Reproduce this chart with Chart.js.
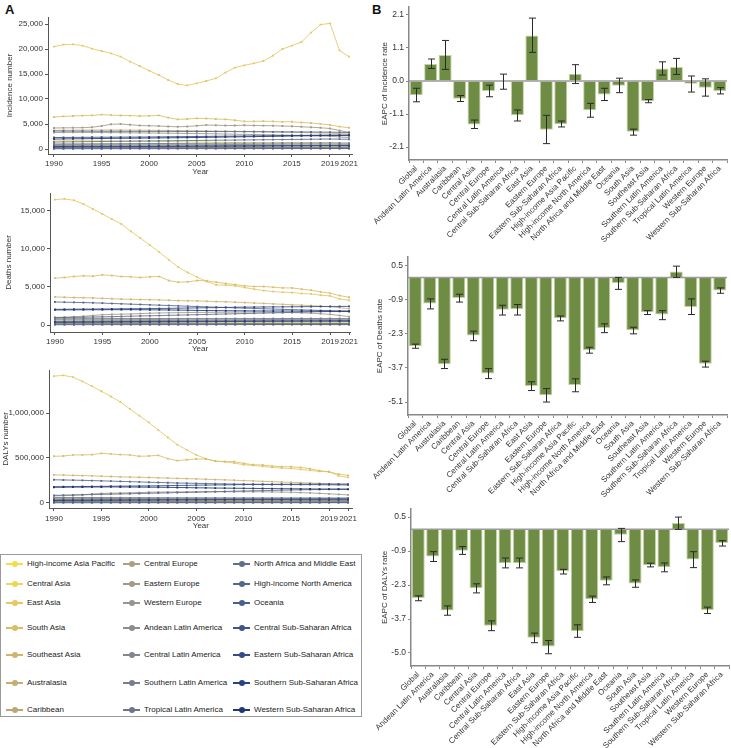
<!DOCTYPE html>
<html><head><meta charset="utf-8">
<script src="https://cdn.jsdelivr.net/npm/chart.js@4.4.1/dist/chart.umd.min.js"></script>
<style>
body{margin:0;background:#fff;font-family:"Liberation Sans",Arial,sans-serif;}
#wrap{position:relative;width:731px;height:748px;overflow:hidden;background:#fff;}
canvas{position:absolute;}
.panel{position:absolute;font-weight:bold;font-size:13px;color:#111;line-height:13px;}
#legend{position:absolute;left:0;top:554px;width:362px;height:163px;border:1px solid #9a9a9a;box-sizing:border-box;}
.li{position:absolute;height:12px;white-space:nowrap;font-size:8px;color:#222;line-height:12px;}
.li .ln{position:absolute;left:0;top:5px;width:17px;height:2px;}
.li .dt{position:absolute;left:5.5px;top:3px;width:6px;height:6px;border-radius:50%;}
.li .tx{position:absolute;left:21px;top:0;}
</style></head>
<body><div id="wrap">
<div class="panel" style="left:5px;top:3px">A</div>
<div class="panel" style="left:372px;top:3px">B</div>
<canvas id="a1" width="360" height="180" style="left:0;top:0;width:360px;height:180px"></canvas>
<canvas id="a2" width="360" height="180" style="left:0;top:180px;width:360px;height:180px"></canvas>
<canvas id="a3" width="360" height="180" style="left:0;top:360px;width:360px;height:180px"></canvas>
<canvas id="b1" width="361" height="245" style="left:370px;top:0;width:361px;height:245px"></canvas>
<canvas id="b2" width="361" height="248" style="left:370px;top:250px;width:361px;height:248px"></canvas>
<canvas id="b3" width="361" height="248" style="left:370px;top:500px;width:361px;height:248px"></canvas>
<div id="legend"></div>
</div>
<script>
// ---------------- DATA ----------------
const years = [1990,1991,1992,1993,1994,1995,1996,1997,1998,1999,2000,2001,2002,2003,2004,2005,2006,2007,2008,2009,2010,2011,2012,2013,2014,2015,2016,2017,2018,2019,2020,2021];
const yearTicks = [1990,1995,2000,2005,2010,2015,2019,2021];

const regions = ["High-income Asia Pacific","Central Asia","East Asia","South Asia","Southeast Asia","Australasia","Caribbean",
  "Central Europe","Eastern Europe","Western Europe","Andean Latin America","Central Latin America","Southern Latin America","Tropical Latin America",
  "North Africa and Middle East","High-income North America","Oceania","Central Sub-Saharan Africa","Eastern Sub-Saharan Africa","Southern Sub-Saharan Africa","Western Sub-Saharan Africa"];
const regionColors = ["#f5dc4c","#efd35a","#e5c763","#dbbd69","#d1b56f","#c6ad74","#baa677",
  "#ad9f80","#a29a88","#98958d","#8c8d8e","#828690","#777f8e","#6c778d",
  "#60708c","#55688d","#4a5f8d","#40568b","#364c86","#2c4280","#223673"];

// Incidence number (rows follow regions)
const incidenceNumber = [
[1730,1720,1710,1690,1690,1670,1650,1640,1610,1580,1550,1520,1490,1460,1440,1410,1390,1350,1320,1300,1260,1240,1210,1180,1160,1130,1100,1080,1050,1020,980,950],
[560,575,580,565,545,530,520,515,500,495,485,480,475,470,465,460,455,455,450,445,440,440,435,430,430,425,420,420,415,410,400,395],
[20470,20870,20930,20670,20070,19600,19130,18470,17470,16600,15670,14800,13800,13000,12730,13130,13600,14130,15270,16270,16730,17130,17600,18670,20000,20670,21400,23270,24870,25130,19730,18470],
[6400,6520,6600,6680,6720,6870,6780,6700,6690,6600,6620,6730,6270,5930,6000,6130,6100,6000,5930,5750,5530,5540,5560,5520,5430,5450,5300,5200,5030,4800,4480,4250],
[3730,3745,3760,3770,3785,3790,3800,3795,3780,3765,3740,3725,3700,3680,3665,3640,3615,3590,3560,3535,3500,3470,3445,3405,3370,3330,3295,3250,3210,3160,3080,3010],
[130,132,131,133,135,136,135,134,132,131,130,129,127,126,125,124,122,121,120,119,117,116,115,114,112,111,110,109,107,106,103,101],
[250,254,258,261,263,266,268,271,272,274,276,277,279,281,282,284,286,287,289,291,292,294,295,297,298,300,301,303,304,305,302,299],
[900,912,905,893,884,878,869,861,852,843,831,822,812,803,797,789,781,772,763,752,741,733,722,711,701,692,681,671,660,648,628,612],
[4200,4230,4250,4260,4350,4600,4950,5000,4850,4700,4650,4600,4500,4450,4500,4650,4800,4750,4700,4700,4750,4700,4680,4650,4600,4550,4450,4350,4250,4100,3700,3300],
[3300,3315,3322,3310,3302,3290,3278,3262,3241,3222,3198,3180,3157,3133,3108,3082,3057,3031,2998,2962,2931,2893,2858,2821,2779,2741,2698,2652,2603,2551,2402,2298],
[180,184,189,191,196,199,202,206,209,212,216,219,222,226,229,232,236,239,242,245,249,252,255,257,260,262,265,267,270,271,266,261],
[700,712,721,733,741,752,763,771,782,792,801,812,821,833,842,851,862,871,882,891,902,911,921,930,938,946,951,956,961,962,944,928],
[320,321,317,314,311,309,306,304,301,299,296,294,291,289,286,284,281,279,276,274,271,269,266,264,261,259,256,254,251,249,244,240],
[1000,1012,1021,1029,1041,1050,1058,1063,1071,1080,1088,1097,1103,1111,1120,1129,1138,1146,1152,1160,1168,1177,1186,1192,1199,1207,1212,1219,1223,1228,1201,1182],
[1400,1421,1439,1462,1481,1498,1522,1541,1559,1582,1601,1619,1642,1661,1679,1702,1723,1748,1771,1789,1812,1829,1852,1871,1889,1912,1931,1949,1972,1988,1968,1951],
[3600,3592,3583,3571,3562,3553,3548,3541,3537,3531,3526,3522,3517,3511,3508,3502,3497,3491,3486,3479,3470,3462,3451,3440,3431,3419,3408,3397,3381,3362,3338,3302],
[50,52,53,55,57,58,60,61,63,65,66,68,70,71,73,75,77,78,80,81,83,85,86,88,90,91,93,95,96,98,99,100],
[400,409,421,430,441,449,461,470,479,491,500,511,519,531,540,551,559,571,580,591,599,611,620,629,641,650,659,671,680,690,697,702],
[2300,2308,2321,2329,2342,2351,2359,2372,2381,2389,2402,2421,2439,2461,2479,2502,2519,2541,2558,2581,2599,2622,2638,2661,2679,2702,2718,2741,2759,2781,2789,2801],
[500,506,509,516,521,524,531,534,541,546,549,556,561,564,571,574,581,586,589,596,601,604,611,616,619,626,631,634,641,645,638,631],
[2000,2018,2042,2059,2081,2098,2122,2139,2161,2178,2202,2219,2241,2262,2279,2301,2332,2358,2391,2419,2452,2478,2511,2539,2572,2598,2631,2658,2691,2718,2702,2681]
];

// Deaths number
const deathsNumber = [
[650,642,631,622,611,600,592,579,571,559,550,538,521,502,489,472,458,441,429,412,401,389,381,369,358,351,339,331,319,311,301,290],
[320,326,331,335,340,344,341,337,332,328,324,320,317,313,309,305,301,297,293,289,285,281,277,273,269,265,261,257,253,249,243,238],
[16500,16590,16410,15920,15260,14600,13940,13280,12320,11440,10510,9590,8580,7610,6900,6290,5720,5280,5240,5150,4930,4710,4530,4400,4310,4270,4140,4090,3920,3830,3430,3260],
[6160,6250,6380,6470,6420,6600,6510,6380,6340,6250,6340,6380,5850,5630,5680,5850,5810,5630,5460,5320,5150,5060,5060,4970,4880,4880,4710,4580,4360,4180,3870,3650],
[3690,3652,3611,3588,3562,3503,3461,3402,3381,3349,3328,3302,3251,3203,3189,3171,3122,3079,3048,3002,2951,2889,2841,2779,2722,2661,2609,2551,2471,2402,2281,2152],
[70,69,68,68,67,66,65,65,63,62,61,60,59,58,57,57,55,54,53,52,51,51,49,48,47,47,45,44,43,43,41,40],
[210,212,214,213,215,216,215,214,214,213,212,211,211,210,209,208,207,206,205,204,203,202,201,200,199,198,197,196,194,193,190,187],
[820,815,808,801,792,781,770,761,748,737,724,712,700,689,676,664,651,640,627,613,601,589,576,563,551,540,527,515,502,490,472,455],
[1000,1021,1079,1152,1248,1352,1398,1421,1452,1501,1549,1581,1602,1619,1641,1652,1661,1669,1680,1688,1698,1702,1691,1679,1662,1641,1598,1552,1479,1402,1248,1101],
[920,914,907,901,894,884,877,867,860,850,842,832,824,814,806,796,788,778,770,760,752,742,734,724,716,706,698,688,680,670,655,641],
[160,162,165,167,169,171,173,175,176,178,180,181,183,184,186,187,188,190,191,192,193,194,195,196,197,198,199,200,201,202,200,198],
[520,528,533,542,546,554,558,566,570,578,582,590,594,602,606,614,618,626,630,638,642,650,654,662,666,674,678,686,690,697,690,684],
[260,258,256,254,252,251,249,247,245,244,242,240,238,237,235,233,231,230,228,226,224,223,221,219,217,216,214,212,210,209,206,203],
[760,767,773,778,784,789,794,799,803,808,812,816,819,823,826,829,832,835,838,841,843,846,848,850,852,854,856,858,859,861,852,843],
[970,991,1012,1033,1058,1081,1102,1129,1158,1188,1211,1239,1268,1301,1329,1358,1389,1421,1452,1479,1508,1541,1569,1601,1628,1661,1689,1718,1751,1779,1818,1851],
[3030,3001,2978,2952,2921,2879,2832,2788,2741,2702,2651,2609,2562,2518,2471,2429,2382,2341,2302,2259,2221,2179,2141,2102,2061,2019,1988,1951,1912,1879,1821,1762],
[40,41,42,43,44,45,46,47,48,49,50,51,52,53,54,55,56,57,58,59,60,61,62,63,64,65,66,67,68,69,70,70],
[330,337,345,352,360,367,375,382,389,396,403,410,417,424,431,438,445,452,459,466,473,480,487,494,501,508,515,522,529,536,542,547],
[2060,2069,2081,2092,2098,2111,2119,2132,2141,2148,2161,2170,2189,2211,2229,2251,2268,2291,2309,2329,2352,2360,2371,2379,2392,2401,2409,2418,2431,2439,2442,2451],
[420,424,428,432,437,441,446,450,455,459,463,467,471,475,479,483,487,490,494,497,500,503,506,509,512,515,518,520,523,525,521,517],
[1980,1991,1999,2002,2011,2009,2021,2018,2022,2012,1998,1991,1979,1962,1941,1919,1902,1889,1881,1868,1861,1852,1849,1841,1838,1831,1829,1822,1818,1811,1803,1798]
];

// DALYs number, in thousands
const dalysThousands = [
[40,39.5,39,38.4,37.8,37.2,36.5,35.8,35.1,34.3,33.5,32.7,31.8,30.9,30,29.1,28.3,27.4,26.6,25.7,24.9,24.1,23.4,22.7,22,21.4,20.8,20.2,19.6,19.1,18.5,18],
[26,26.5,27,27.3,27.6,27.9,27.7,27.4,27.1,26.8,26.5,26.2,25.9,25.5,25.2,24.8,24.5,24.1,23.8,23.4,23,22.7,22.3,21.9,21.5,21.2,20.8,20.4,20,19.6,19.1,18.6],
[1410,1418,1399,1351,1298,1242,1183,1123,1045,970,895,810,728,649,590,534,493,466,459,444,425,418,407,395,388,384,373,362,351,347,302,284],
[519,522,534,534,537,552,545,537,534,519,522,530,493,470,481,489,489,466,459,459,440,425,422,410,403,403,395,381,358,347,321,306],
[313,310,307,305,302,298,294,290,288,286,283,280,277,273,271,268,264,260,257,253,249,245,241,237,233,229,226,222,217,213,209,205],
[3.2,3.2,3.1,3.1,3,3,2.9,2.9,2.8,2.8,2.7,2.7,2.6,2.6,2.5,2.5,2.5,2.4,2.4,2.3,2.3,2.3,2.2,2.2,2.2,2.1,2.1,2.1,2.1,2,2,2],
[12,12.1,12.2,12.2,12.3,12.3,12.2,12.1,12,11.9,11.9,11.8,11.7,11.6,11.6,11.5,11.4,11.4,11.3,11.2,11.1,11.1,11,10.9,10.9,10.8,10.8,10.7,10.7,10.6,10.5,10.4],
[55,54.5,53.9,53,52,51,50,49,48,46.8,45.7,44.5,43.4,42.3,41.2,40.1,39,37.8,36.8,35.7,34.6,33.6,32.6,31.7,30.9,30.1,29.4,28.8,28.2,27.7,27.3,27],
[80,82,86,92,99,106,109,111,113,116,119,121,122,123,124,124,125,125,125,125,125,125,124,123,121,119,116,112,107,102,96,90],
[62,61.6,61.1,60.6,60,59.4,58.8,58.2,57.5,56.8,56.1,55.5,54.8,54.1,53.4,52.8,52.1,51.4,50.7,50,49.4,48.7,48.1,47.5,46.9,46.3,45.8,45.2,44.7,44.2,43.6,43],
[13,13.1,13.2,13.2,13.3,13.4,13.4,13.5,13.5,13.6,13.6,13.7,13.7,13.8,13.8,13.8,13.9,13.9,13.9,14,14,14,14,14.1,14.1,14.1,14.1,14.2,14.2,14.2,14.1,14],
[40,40.4,40.8,41.1,41.5,41.8,42.2,42.5,42.9,43.2,43.6,43.9,44.2,44.6,44.9,45.2,45.5,45.8,46.1,46.4,46.7,47,47.2,47.5,47.7,47.9,48.1,48.3,48.4,48.5,48.2,48],
[17,16.9,16.7,16.6,16.4,16.3,16.1,16,15.8,15.7,15.5,15.4,15.2,15.1,14.9,14.8,14.6,14.5,14.3,14.2,14.1,13.9,13.8,13.7,13.6,13.5,13.4,13.3,13.2,13.1,13,13],
[55,55.3,55.6,55.8,56,56.2,56.3,56.4,56.5,56.6,56.6,56.7,56.7,56.7,56.8,56.8,56.8,56.8,56.8,56.7,56.7,56.7,56.6,56.6,56.5,56.5,56.4,56.3,56.3,56.2,56.1,56],
[85,87,89,91,94,96,98,101,103,106,108,111,113,116,118,121,123,126,128,131,133,136,138,140,142,144,146,148,150,152,154,155],
[258,256,254,252,249,246,243,240,237,234,231,228,225,222,220,218,216,214,212,210,209,208,207,206,205,205,204,204,203,202,201,200],
[3.5,3.6,3.6,3.7,3.8,3.8,3.9,4,4,4.1,4.1,4.2,4.2,4.3,4.3,4.4,4.4,4.5,4.5,4.6,4.6,4.7,4.7,4.7,4.8,4.8,4.8,4.9,4.9,4.9,5,5],
[28,28.6,29.2,29.8,30.4,31,31.5,32.1,32.7,33.2,33.8,34.3,34.9,35.4,36,36.5,37,37.6,38.1,38.6,39.1,39.6,40.1,40.6,41.1,41.6,42.1,42.6,43.1,43.6,44.3,45],
[180,181,182,183,184,185,186,187,188,189,190,191,193,195,196,198,199,201,202,203,205,206,206,207,208,208,209,209,210,210,210,210],
[30,30.3,30.6,30.9,31.2,31.4,31.7,32,32.2,32.5,32.7,33,33.2,33.4,33.6,33.8,34,34.2,34.3,34.5,34.6,34.7,34.8,34.9,35,35.1,35.1,35.2,35.2,35.2,35.1,35],
[175,176,177,177,178,178,179,178,178,177,176,175,174,172,171,169,168,166,165,164,163,162,161,160,159,158,157,156,155,154,153,152]
];

// Panel B
const barCategories = ["Global","Andean Latin America","Australasia","Caribbean","Central Asia","Central Europe","Central Latin America",
  "Central Sub-Saharan Africa","East Asia","Eastern Europe","Eastern Sub-Saharan Africa","High-income Asia Pacific","High-income North America",
  "North Africa and Middle East","Oceania","South Asia","Southeast Asia","Southern Latin America","Southern Sub-Saharan Africa",
  "Tropical Latin America","Western Europe","Western Sub-Saharan Africa"];
const incEapc  = [-0.45,0.54,0.83,-0.56,-1.38,-0.32,-0.02,-1.09,1.45,-1.55,-1.37,0.23,-0.93,-0.43,-0.15,-1.61,-0.64,0.40,0.45,-0.09,-0.21,-0.32];
const incLow   = [-0.66,0.40,0.37,-0.65,-1.51,-0.50,-0.26,-1.27,0.91,-1.99,-1.46,-0.08,-1.15,-0.62,-0.37,-1.72,-0.69,0.19,0.21,-0.35,-0.48,-0.41];
const incHigh  = [-0.23,0.70,1.29,-0.46,-1.24,-0.13,0.22,-0.92,2.00,-1.09,-1.27,0.52,-0.71,-0.23,0.09,-1.53,-0.59,0.61,0.72,0.16,0.07,-0.21];
const deathEapc = [-2.82,-1.07,-3.55,-0.84,-2.38,-3.93,-1.32,-1.30,-4.44,-4.82,-1.67,-4.40,-2.98,-2.07,-0.23,-2.16,-1.43,-1.52,0.24,-1.21,-3.53,-0.54];
const deathLow  = [-2.90,-1.29,-3.73,-1.01,-2.59,-4.14,-1.54,-1.54,-4.63,-5.10,-1.78,-4.68,-3.10,-2.26,-0.49,-2.31,-1.52,-1.73,0.00,-1.52,-3.67,-0.65];
const deathHigh = [-2.73,-0.88,-3.35,-0.69,-2.20,-3.73,-1.14,-1.11,-4.27,-4.55,-1.58,-4.15,-2.86,-1.90,0.00,-2.04,-1.36,-1.36,0.46,-0.88,-3.43,-0.43];
const dalyEapc = [-2.80,-1.11,-3.31,-0.87,-2.40,-3.93,-1.38,-1.38,-4.42,-4.78,-1.71,-4.15,-2.85,-2.09,-0.22,-2.21,-1.46,-1.54,0.26,-1.23,-3.29,-0.56];
const dalyLow  = [-2.91,-1.31,-3.50,-1.02,-2.59,-4.13,-1.57,-1.57,-4.62,-5.07,-1.82,-4.40,-2.98,-2.26,-0.50,-2.36,-1.53,-1.73,0.00,-1.56,-3.43,-0.68];
const dalyHigh = [-2.71,-0.91,-3.12,-0.70,-2.22,-3.73,-1.17,-1.17,-4.23,-4.53,-1.63,-3.89,-2.72,-1.94,0.04,-2.06,-1.38,-1.37,0.50,-0.91,-3.17,-0.46];
const incTickVals = [2.1,1.05,0,-1.05,-2.1];
const incTickLabels = ["2.1","1.1","0.0","-1.1","-2.1"];
const deathTickVals = [0.5,-0.9,-2.3,-3.7,-5.1];
const deathTickLabels = ["0.5","-0.9","-2.3","-3.7","-5.1"];
const dalyTickVals = [0.5,-0.885,-2.27,-3.655,-5.04];
const dalyTickLabels = ["0.5","-0.9","-2.3","-3.7","-5.0"];

// ---------------- RENDER ----------------
Chart.defaults.font.family = '"Liberation Sans", Arial, sans-serif';
Chart.defaults.font.size = 8;
Chart.defaults.color = '#333';

function hexA(h, a){const n=parseInt(h.slice(1),16);return `rgba(${n>>16},${(n>>8)&255},${n&255},${a})`;}

function lineChart(id, rows, mul, c){
  const datasets = regions.map((name,i)=>({
    label:name,
    data: rows[i].map((v,j)=>({x:years[j], y:v*mul})),
    borderColor: hexA(regionColors[i],0.85),
    backgroundColor: regionColors[i],
    pointBorderColor: regionColors[i],
    borderWidth:1, pointRadius:1.3, pointStyle:'rect', pointBorderWidth:0,
    order: regions.length - 1 - i, tension:0
  }));
  new Chart(document.getElementById(id), {
    type:'line', data:{datasets},
    options:{responsive:false, animation:false, events:[],
      layout:{padding:{top:c.top,right:c.right,bottom:0,left:0}},
      plugins:{legend:{display:false},tooltip:{enabled:false}},
      scales:{
        x:{type:'linear', min:c.xMin, max:c.xMax,
          grid:{drawOnChartArea:false, tickLength:3, color:'#555'},
          border:{color:'#555', width:1},
          ticks:{padding:c.xPad, font:{size:8}, color:'#333', maxRotation:0, callback:v=>String(v)},
          afterBuildTicks:s=>{s.ticks = yearTicks.map(v=>({value:v}));},
          afterFit:s=>{s.height = c.xH;},
          title:{display:true, text:'Year', font:{size:8}, color:'#333', padding:{top:0,bottom:c.tPad}}},
        y:{min:c.yMin, max:c.yMax,
          grid:{drawOnChartArea:false, tickLength:3, color:'#555'},
          border:{color:'#555', width:1},
          ticks:{padding:2, font:{size:8}, color:'#333', callback:v=>v.toLocaleString('en-US')},
          afterBuildTicks:s=>{s.ticks = c.yTicks.map(v=>({value:v}));},
          afterFit:s=>{s.width = c.yW;},
          title:{display:true, text:c.yTitle, font:{size:8}, color:'#333', padding:{top:c.yTPad,bottom:0}}}
      }}
  });
}

lineChart('a1', incidenceNumber, 1, {top:17,right:6,xMin:1989.37,xMax:2021.4,xH:26,xPad:2,tPad:3,
  yMin:-1000,yMax:26400,yTicks:[0,5000,10000,15000,20000,25000],yW:48,yTitle:'Incidence number',yTPad:5});
lineChart('a2', deathsNumber, 1, {top:13,right:5,xMin:1989.48,xMax:2021.1,xH:28,xPad:2,tPad:6,
  yMin:-921,yMax:17368,yTicks:[0,5000,10000,15000],yW:50,yTitle:'Deaths number',yTPad:4});
lineChart('a3', dalysThousands, 1000, {top:10,right:5,xMin:1989.48,xMax:2021.5,xH:32,xPad:3,tPad:9,
  yMin:-55556,yMax:1477778,yTicks:[0,500000,1000000],yW:49,yTitle:"DALYs number",yTPad:1});

const errorBars = {
  id:'errorBars',
  afterDatasetsDraw(chart, args, opts){
    const {ctx, chartArea, scales:{x,y}} = chart;
    ctx.save();
    const y0 = y.getPixelForValue(0);
    ctx.strokeStyle = '#9a9a9a'; ctx.lineWidth = 1.5;
    ctx.beginPath(); ctx.moveTo(chartArea.left, y0); ctx.lineTo(chartArea.right, y0); ctx.stroke();
    ctx.strokeStyle = '#2a2a2a'; ctx.lineWidth = 1;
    opts.low.forEach((lo,i)=>{
      const hi = opts.high[i];
      const px = Math.round(x.getPixelForValue(i)) + 0.5;
      const a = y.getPixelForValue(lo), b = y.getPixelForValue(hi);
      ctx.beginPath();
      ctx.moveTo(px, a); ctx.lineTo(px, b);
      ctx.moveTo(px-3.5, a); ctx.lineTo(px+3.5, a);
      ctx.moveTo(px-3.5, b); ctx.lineTo(px+3.5, b);
      ctx.stroke();
    });
    ctx.restore();
  }
};

function barChart(id, vals, low, high, tv, tl, title, c){
  new Chart(document.getElementById(id), {
    type:'bar',
    data:{labels:barCategories, datasets:[{data:vals, backgroundColor:'#6e8c43', borderColor:'#c2d3a3', borderWidth:1,
      barPercentage:0.9, categoryPercentage:1}]},
    options:{responsive:false, animation:false, events:[],
      layout:{padding:{top:c.top,right:c.right,bottom:0,left:0}},
      plugins:{legend:{display:false},tooltip:{enabled:false}, errorBars:{low, high}},
      scales:{
        x:{grid:{drawOnChartArea:false, tickLength:3, color:'#888'},
          border:{color:'#888', width:1.5},
          ticks:{autoSkip:false, maxRotation:45, minRotation:45, padding:1, font:{size:8}, color:'#333'},
          afterFit:s=>{s.height = c.xH;}},
        y:{min:c.yMin, max:c.yMax,
          grid:{drawOnChartArea:false, tickLength:3, color:'#888'},
          border:{color:'#888', width:1.5},
          ticks:{padding:2, font:{size:8.5}, color:'#333', callback:(v,i)=>tl[i]},
          afterBuildTicks:s=>{s.ticks = tv.map(v=>({value:v}));},
          afterFit:s=>{s.width = c.yW;},
          title:{display:true, text:title, font:{size:8}, color:'#333', padding:{top:c.yTPad,bottom:0}}}
      }},
    plugins:[errorBars]
  });
}

barChart('b1', incEapc, incLow, incHigh, incTickVals, incTickLabels, 'EAPC of Incidence rate',
  {top:5,right:4,xH:85,yMin:-2.51,yMax:2.35,yW:39,yTPad:10});
barChart('b2', deathEapc, deathLow, deathHigh, deathTickVals, deathTickLabels, 'EAPC of Deaths rate',
  {top:7,right:4,xH:83,yMin:-5.63,yMax:0.83,yW:38,yTPad:5});
barChart('b3', dalyEapc, dalyLow, dalyHigh, dalyTickVals, dalyTickLabels, "EAPC of DALYs rate",
  {top:9,right:2,xH:82,yMin:-5.57,yMax:0.83,yW:41,yTPad:10});

// Legend (HTML, real text)
const legendRowY = [9,29,48,73,100,128,155];
const legendColX = [5,122,232];
const leg = document.getElementById('legend');
regions.forEach((name,i)=>{
  const col = Math.floor(i/7), row = i%7;
  const d = document.createElement('div');
  d.className = 'li';
  d.style.left = legendColX[col]+'px';
  d.style.top = (legendRowY[row]-6)+'px';
  d.innerHTML = `<span class="ln" style="background:${regionColors[i]}"></span><span class="dt" style="background:${regionColors[i]}"></span><span class="tx"></span>`;
  d.querySelector('.tx').textContent = name;
  leg.appendChild(d);
});
</script>
</body></html>
